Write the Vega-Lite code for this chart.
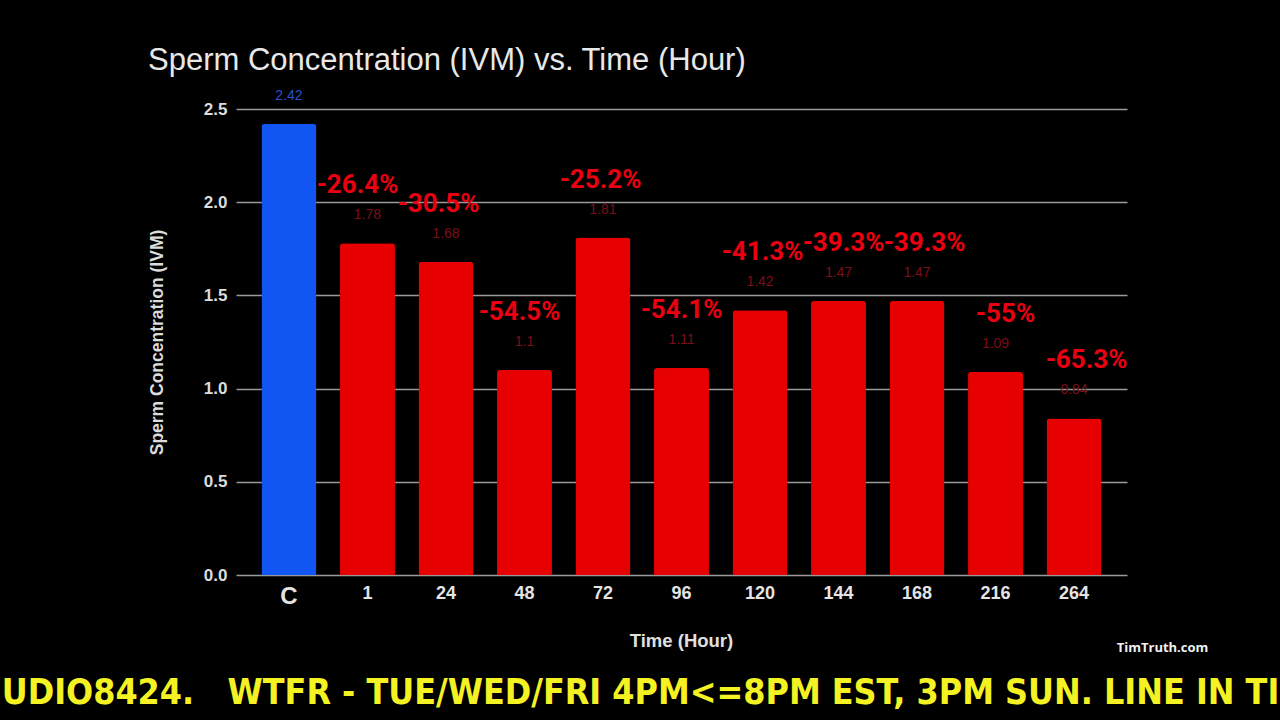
{
  "$schema": "https://vega.github.io/schema/vega-lite/v6.json",
  "width": 891,
  "height": 466,
  "autosize": "none",
  "padding": {"left": 236, "top": 109, "right": 153, "bottom": 145},
  "background": "#000000",
  "title": {
    "text": "Sperm Concentration (IVM) vs. Time (Hour)",
    "anchor": "start",
    "frame": "group",
    "dx": -88,
    "offset": 12,
    "fontSize": 31,
    "font": "Liberation Sans",
    "fontWeight": "normal",
    "color": "#e8e8e8"
  },
  "data": {
    "values": [
      {"time": "C", "value": 2.42, "group": "Control", "change": null},
      {"time": "1", "value": 1.78, "group": "IVM", "change": "-26.4%"},
      {"time": "24", "value": 1.68, "group": "IVM", "change": "-30.5%"},
      {"time": "48", "value": 1.1, "group": "IVM", "change": "-54.5%"},
      {"time": "72", "value": 1.81, "group": "IVM", "change": "-25.2%"},
      {"time": "96", "value": 1.11, "group": "IVM", "change": "-54.1%"},
      {"time": "120", "value": 1.42, "group": "IVM", "change": "-41.3%"},
      {"time": "144", "value": 1.47, "group": "IVM", "change": "-39.3%"},
      {"time": "168", "value": 1.47, "group": "IVM", "change": "-39.3%"},
      {"time": "216", "value": 1.09, "group": "IVM", "change": "-55%"},
      {"time": "264", "value": 0.84, "group": "IVM", "change": "-65.3%"}
    ]
  },
  "layer": [
    {
      "layer": [
        {
          "mark": {"type": "bar", "cornerRadiusTopLeft": 3, "cornerRadiusTopRight": 3},
          "encoding": {
            "x": {
              "field": "time",
              "type": "nominal",
              "scale": {"domain": ["C", "1", "24", "48", "72", "96", "120", "144", "168", "216", "264"], "paddingInner": 0.3, "paddingOuter": 0.325},
              "axis": {
                "labelAngle": 0,
                "domain": false,
                "ticks": false,
                "grid": false,
                "labelPadding": 9,
                "labelFont": "Liberation Sans",
                "labelFontWeight": "bold",
                "labelFontSize": {"condition": {"test": "datum.value === 'C'", "value": 24}, "value": 18},
                "labelColor": "#e4e4e4",
                "title": "Time (Hour)",
                "titleX": 445,
                "titleY": 65,
                "titleAlign": "center",
                "titleBaseline": "middle",
                "titleFont": "Liberation Sans",
                "titleFontSize": 18.5,
                "titleFontWeight": "bold",
                "titleColor": "#e0e0e0"
              }
            },
            "y": {
              "field": "value",
              "type": "quantitative",
              "scale": {"domain": [0, 2.5], "nice": false},
              "axis": {
                "values": [0, 0.5, 1, 1.5, 2, 2.5],
                "format": ".1f",
                "grid": true,
                "gridColor": "#9a9a9a",
                "gridWidth": 1.5,
                "domain": false,
                "ticks": false,
                "labelPadding": 9,
                "labelFont": "Liberation Sans",
                "labelFontWeight": "bold",
                "labelFontSize": 17,
                "labelColor": "#dcdcdc",
                "title": "Sperm Concentration (IVM)",
                "titleX": -79,
                "titleY": 233,
                "titleAngle": -90,
                "titleAlign": "center",
                "titleBaseline": "middle",
                "titleFont": "Liberation Sans",
                "titleFontSize": 17.5,
                "titleFontWeight": "bold",
                "titleColor": "#dcdcdc"
              }
            },
            "color": {
              "field": "group",
              "type": "nominal",
              "scale": {"domain": ["Control", "IVM"], "range": ["#1155f2", "#e60000"]},
              "legend": null
            }
          }
        },
        {
          "mark": {"type": "text", "dy": -28, "fontSize": 14, "font": "Liberation Sans", "baseline": "middle"},
          "encoding": {
            "x": {"field": "time", "type": "nominal", "scale": {"domain": ["C", "1", "24", "48", "72", "96", "120", "144", "168", "216", "264"], "paddingInner": 0.3, "paddingOuter": 0.325}},
            "y": {"field": "value", "type": "quantitative", "scale": {"domain": [0, 2.5], "nice": false}},
            "text": {"field": "value", "type": "nominal"},
            "color": {"condition": {"test": "datum.group === 'Control'", "value": "#2a50c8"}, "value": "#7c0e18"}
          }
        }
      ]
    },
    {
      "transform": [{"filter": "datum.change != null"}],
      "mark": {"type": "text", "dy": -58, "fontSize": 26, "fontWeight": "bold", "font": "Roboto", "baseline": "middle", "color": "#ea0010"},
      "encoding": {
        "x": {
          "field": "time",
          "type": "nominal",
          "scale": {"domain": ["C", "1", "24", "48", "72", "96", "120", "144", "168", "216", "264"], "paddingInner": 0.3, "paddingOuter": 0.325},
          "axis": {
            "orient": "top",
            "labels": false,
            "ticks": false,
            "domain": false,
            "grid": false,
            "title": "TimTruth.com",
            "titleX": 926,
            "titleY": 538,
            "titleAlign": "center",
            "titleBaseline": "middle",
            "titleFont": "Open Sans",
            "titleFontSize": 13,
            "titleFontWeight": "bold",
            "titleColor": "#f0f0f0"
          }
        },
        "y": {
          "field": "value",
          "type": "quantitative",
          "scale": {"domain": [0, 2.5], "nice": false},
          "axis": {
            "orient": "right",
            "labels": false,
            "ticks": false,
            "domain": false,
            "grid": false,
            "title": "UDIO8424.\u00a0\u00a0\u00a0WTFR - TUE/WED/FRI 4PM<=8PM EST, 3PM SUN. LINE IN TI",
            "titleX": -487,
            "titleY": 583,
            "titleAngle": 0,
            "titleAlign": "center",
            "titleBaseline": "middle",
            "titleFont": "DejaVu Sans Condensed",
            "titleFontSize": 35.5,
            "titleFontWeight": "bold",
            "titleColor": "#f4f222"
          }
        },
        "text": {"field": "change", "type": "nominal"}
      }
    }
  ],
  "resolve": {"scale": {"x": "independent", "y": "independent"}},
  "config": {"view": {"stroke": null}}
}
